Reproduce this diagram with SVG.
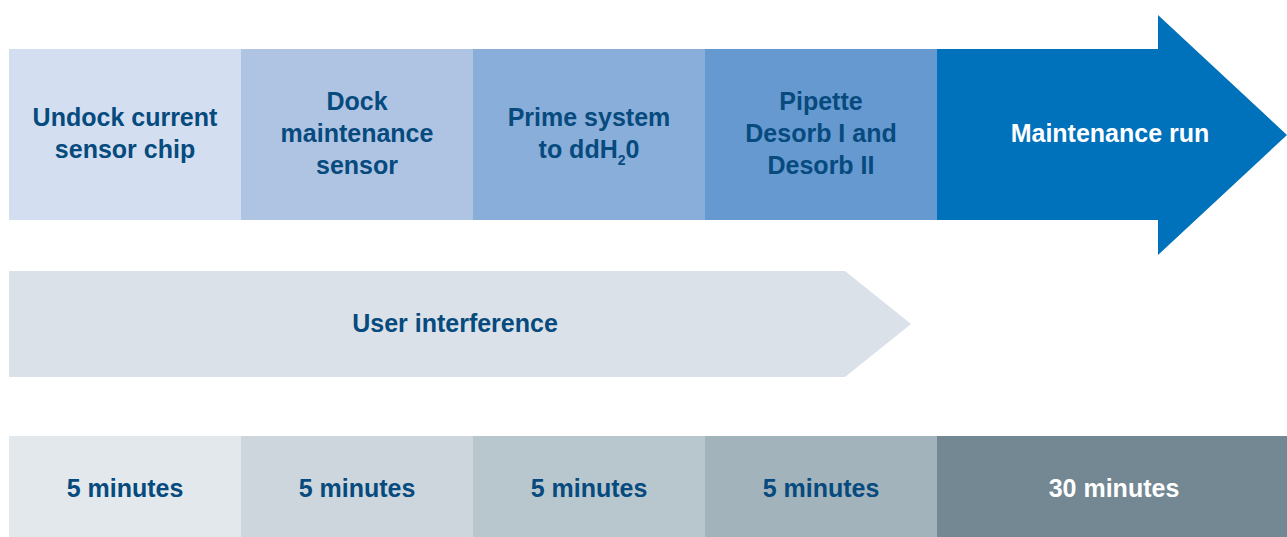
<svg xmlns="http://www.w3.org/2000/svg" width="1287" height="537" viewBox="0 0 1287 537">
<style>
text{font-family:"Liberation Sans",Arial,sans-serif;font-weight:bold;font-size:25px;text-anchor:middle;fill:#064a7e}
text.w{fill:#ffffff}
</style>
<rect width="1287" height="537" fill="#ffffff"/>
<g id="step-undock">
<rect x="9" y="49" width="232" height="171" fill="#d3dff0"/>
<text x="125" y="126">Undock current</text>
<text x="125" y="158">sensor chip</text>
</g>
<g id="step-dock">
<rect x="241" y="49" width="232" height="171" fill="#afc4e3"/>
<text x="357" y="110">Dock</text>
<text x="357" y="142">maintenance</text>
<text x="357" y="174">sensor</text>
</g>
<g id="step-prime">
<rect x="473" y="49" width="232" height="171" fill="#89aeda"/>
<text x="589" y="126">Prime system</text>
<text x="589" y="158">to ddH<tspan font-size="14" dy="7">2</tspan><tspan dy="-7">0</tspan></text>
</g>
<g id="step-pipette">
<rect x="705" y="49" width="232" height="171" fill="#6699d0"/>
<text x="821" y="110">Pipette</text>
<text x="821" y="142">Desorb I and</text>
<text x="821" y="174">Desorb II</text>
</g>
<g id="step-maintenance">
<polygon points="937,49 1158,49 1158,15 1287,135 1158,255 1158,220 937,220" fill="#0071bb"/>
<text class="w" x="1110" y="142">Maintenance run</text>
</g>
<g id="user-interference">
<polygon points="9,271 845,271 911,324 845,377 9,377" fill="#dae1e8"/>
<text x="455" y="332">User interference</text>
</g>
<g id="time-1">
<rect x="9" y="436" width="232" height="101" fill="#e3e8ec"/>
<text x="125" y="497">5 minutes</text>
</g>
<g id="time-2">
<rect x="241" y="436" width="232" height="101" fill="#cdd6dd"/>
<text x="357" y="497">5 minutes</text>
</g>
<g id="time-3">
<rect x="473" y="436" width="232" height="101" fill="#b8c7ce"/>
<text x="589" y="497">5 minutes</text>
</g>
<g id="time-4">
<rect x="705" y="436" width="232" height="101" fill="#a3b3bc"/>
<text x="821" y="497">5 minutes</text>
</g>
<g id="time-5">
<rect x="937" y="436" width="350" height="101" fill="#738892"/>
<text class="w" x="1114" y="497">30 minutes</text>
</g>
<g id="connectors"></g>
</svg>
